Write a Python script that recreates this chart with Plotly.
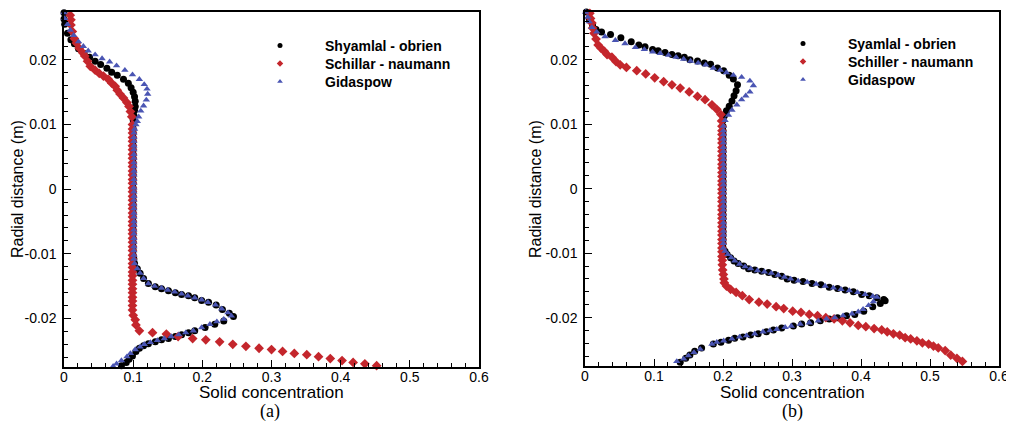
import plotly.graph_objects as go

# ---------------- Panel (a) data ----------------
A_Y_CORE = [0.0100, 0.0093, 0.0087, 0.0080, 0.0074, 0.0067, 0.0061, 0.0054, 0.0048, 0.0041, 0.0035,
            0.0028, 0.0022, 0.0015, 0.0009, 0.0002, -0.0004, -0.0011, -0.0017, -0.0024, -0.0030, -0.0037,
            -0.0043, -0.0050, -0.0056, -0.0063, -0.0069, -0.0076, -0.0082, -0.0089, -0.0095, -0.0102, -0.0108]

# Shyamlal - obrien (a)
A_SO_TOP_X = [0.000, 0.000, 0.001, 0.005, 0.010, 0.015, 0.021, 0.029, 0.037, 0.045, 0.053, 0.062,
              0.069, 0.077, 0.086, 0.093, 0.097, 0.100, 0.102, 0.103, 0.103, 0.102, 0.101, 0.100]
A_SO_TOP_Y = [0.0273, 0.0263, 0.0255, 0.0241, 0.0231, 0.0225, 0.0217, 0.0210, 0.0204, 0.0198, 0.0193, 0.0187,
              0.0181, 0.0176, 0.0170, 0.0164, 0.0157, 0.0150, 0.0143, 0.0136, 0.0128, 0.0122, 0.0114, 0.0107]
A_SO_CORE_X = [0.100, 0.100, 0.100, 0.100, 0.100, 0.100, 0.100, 0.100, 0.100, 0.100, 0.100,
               0.100, 0.100, 0.100, 0.100, 0.100, 0.100, 0.100, 0.100, 0.100, 0.100, 0.100,
               0.100, 0.100, 0.100, 0.100, 0.100, 0.100, 0.100, 0.100, 0.100, 0.100, 0.101]
A_SO_BOT_X = [0.102, 0.106, 0.110, 0.115, 0.122, 0.132, 0.141, 0.151, 0.161, 0.170, 0.180, 0.189,
              0.199, 0.209, 0.220, 0.229, 0.239, 0.245, 0.231, 0.218, 0.204, 0.189, 0.180, 0.170,
              0.161, 0.151, 0.141, 0.132, 0.122, 0.115, 0.109, 0.104, 0.099, 0.094, 0.090, 0.083]
A_SO_BOT_Y = [-0.0115, -0.0123, -0.0130, -0.0138, -0.0146, -0.0151, -0.0154, -0.0157, -0.0160, -0.0163,
              -0.0165, -0.0168, -0.0172, -0.0175, -0.0179, -0.0186, -0.0192, -0.0197, -0.0204, -0.0209,
              -0.0214, -0.0219, -0.0222, -0.0225, -0.0228, -0.0231, -0.0233, -0.0236, -0.0239, -0.0242,
              -0.0246, -0.0251, -0.0258, -0.0263, -0.0268, -0.0273]

# Schillar - naumann (a)
A_SN_TOP_X = [0.009, 0.010, 0.010, 0.012, 0.015, 0.018, 0.022, 0.027, 0.030, 0.034, 0.038, 0.045,
              0.051, 0.057, 0.064, 0.069, 0.074, 0.077, 0.081, 0.086, 0.091, 0.094, 0.096, 0.098]
A_SN_TOP_Y = [0.0269, 0.0262, 0.0254, 0.0244, 0.0233, 0.0226, 0.0218, 0.0211, 0.0206, 0.0198, 0.0190, 0.0184,
              0.0179, 0.0175, 0.0170, 0.0164, 0.0159, 0.0153, 0.0147, 0.0141, 0.0134, 0.0128, 0.0120, 0.0112]
A_SN_CORE_X = [0.099, 0.099, 0.099, 0.099, 0.099, 0.099, 0.099, 0.099, 0.099, 0.099, 0.099,
               0.099, 0.099, 0.099, 0.099, 0.099, 0.099, 0.099, 0.099, 0.099, 0.099, 0.099,
               0.099, 0.099, 0.099, 0.099, 0.099, 0.099, 0.099, 0.099, 0.099, 0.099, 0.099]
A_SN_EXT_Y = [-0.0115, -0.0121, -0.0128, -0.0134, -0.0141, -0.0147, -0.0154, -0.0160, -0.0167, -0.0173, -0.0180]
A_SN_EXT_X = [0.099, 0.099, 0.099, 0.099, 0.099, 0.099, 0.099, 0.099, 0.099, 0.099, 0.099]
A_SN_BOT_X = [0.099, 0.100, 0.103, 0.104, 0.109, 0.128, 0.148, 0.165, 0.186, 0.205, 0.225, 0.244,
              0.263, 0.282, 0.300, 0.316, 0.333, 0.351, 0.368, 0.385, 0.402, 0.418, 0.435, 0.452]
A_SN_BOT_Y = [-0.0187, -0.0195, -0.0202, -0.0210, -0.0219, -0.0222, -0.0224, -0.0228, -0.0231, -0.0233,
              -0.0236, -0.0240, -0.0243, -0.0246, -0.0248, -0.0251, -0.0254, -0.0256, -0.0259, -0.0262,
              -0.0265, -0.0268, -0.0270, -0.0273]

# Gidaspow (a)
A_GI_TOP_X = [0.000, 0.001, 0.005, 0.009, 0.014, 0.021, 0.028, 0.035, 0.045, 0.055, 0.066, 0.076,
              0.088, 0.099, 0.109, 0.116, 0.120, 0.121, 0.119, 0.115, 0.111, 0.108, 0.106]
A_GI_TOP_Y = [0.0273, 0.0264, 0.0255, 0.0246, 0.0238, 0.0228, 0.0221, 0.0214, 0.0208, 0.0202, 0.0197, 0.0191,
              0.0184, 0.0177, 0.0170, 0.0162, 0.0155, 0.0147, 0.0138, 0.0129, 0.0121, 0.0112, 0.0105]
A_GI_CORE_X = [0.104, 0.102, 0.101, 0.101, 0.101, 0.101, 0.101, 0.101, 0.101, 0.101, 0.101,
               0.101, 0.101, 0.101, 0.101, 0.101, 0.101, 0.101, 0.101, 0.101, 0.101, 0.101,
               0.101, 0.101, 0.101, 0.101, 0.101, 0.101, 0.101, 0.101, 0.101, 0.101, 0.101]
A_GI_BOT_X = [0.102, 0.106, 0.110, 0.115, 0.122, 0.131, 0.141, 0.150, 0.160, 0.170, 0.179, 0.189,
              0.199, 0.208, 0.219, 0.228, 0.237, 0.242, 0.231, 0.221, 0.211, 0.199, 0.187, 0.176,
              0.166, 0.155, 0.145, 0.135, 0.125, 0.116, 0.110, 0.103, 0.096, 0.091, 0.083, 0.076, 0.071]
A_GI_BOT_Y = [-0.0115, -0.0123, -0.0130, -0.0138, -0.0146, -0.0150, -0.0153, -0.0156, -0.0159, -0.0162,
              -0.0165, -0.0168, -0.0171, -0.0175, -0.0179, -0.0185, -0.0191, -0.0196, -0.0201, -0.0205,
              -0.0209, -0.0214, -0.0219, -0.0222, -0.0225, -0.0228, -0.0231, -0.0234, -0.0237, -0.0240,
              -0.0244, -0.0248, -0.0254, -0.0259, -0.0265, -0.0270, -0.0274]

# ---------------- Panel (b) data ----------------
B_Y_CORE = [0.0097, 0.0090, 0.0084, 0.0077, 0.0071, 0.0064, 0.0058, 0.0051, 0.0045, 0.0038,
            0.0032, 0.0025, 0.0019, 0.0012, 0.0006, -0.0001, -0.0007, -0.0014, -0.0020, -0.0027,
            -0.0033, -0.0040, -0.0046, -0.0053, -0.0059, -0.0066, -0.0072, -0.0079, -0.0085, -0.0092]

# Syamlal - obrien (b)
B_SO_TOP_X = [0.002, 0.006, 0.011, 0.016, 0.024, 0.037, 0.052, 0.067, 0.078, 0.087, 0.098, 0.106,
              0.116, 0.126, 0.135, 0.144, 0.152, 0.163, 0.173, 0.182, 0.192, 0.201, 0.209, 0.215,
              0.221, 0.219, 0.216, 0.213, 0.209, 0.205, 0.202, 0.200]
B_SO_TOP_Y = [0.0274, 0.0264, 0.0253, 0.0247, 0.0243, 0.0239, 0.0234, 0.0228, 0.0223, 0.0220, 0.0216, 0.0214,
              0.0211, 0.0208, 0.0206, 0.0204, 0.0200, 0.0198, 0.0195, 0.0193, 0.0187, 0.0183, 0.0176, 0.0170,
              0.0161, 0.0152, 0.0144, 0.0136, 0.0128, 0.0121, 0.0113, 0.0106]
B_SO_CORE_X = [0.200, 0.200, 0.200, 0.200, 0.200, 0.200, 0.200, 0.200, 0.200, 0.200,
               0.200, 0.200, 0.200, 0.200, 0.200, 0.200, 0.200, 0.200, 0.200, 0.200,
               0.200, 0.200, 0.200, 0.200, 0.200, 0.200, 0.200, 0.200, 0.200, 0.200]
B_SO_BOT_X = [0.203, 0.206, 0.211, 0.216, 0.222, 0.230, 0.237, 0.246, 0.256, 0.266, 0.275, 0.285,
              0.293, 0.303, 0.316, 0.329, 0.342, 0.354, 0.366, 0.377, 0.389, 0.401, 0.412, 0.423,
              0.433, 0.435, 0.428, 0.417, 0.404, 0.391, 0.379, 0.366, 0.354, 0.341, 0.327, 0.314,
              0.302, 0.285, 0.273, 0.263, 0.251, 0.240, 0.229, 0.217, 0.208, 0.197, 0.186, 0.169,
              0.159, 0.152, 0.146, 0.138]
B_SO_BOT_Y = [-0.0097, -0.0102, -0.0107, -0.0112, -0.0116, -0.0120, -0.0124, -0.0126, -0.0128, -0.0130,
              -0.0133, -0.0136, -0.0140, -0.0142, -0.0144, -0.0147, -0.0149, -0.0153, -0.0155, -0.0157,
              -0.0160, -0.0164, -0.0166, -0.0169, -0.0172, -0.0174, -0.0178, -0.0183, -0.0190, -0.0195,
              -0.0197, -0.0200, -0.0202, -0.0205, -0.0208, -0.0210, -0.0213, -0.0216, -0.0219, -0.0222,
              -0.0225, -0.0227, -0.0230, -0.0232, -0.0235, -0.0238, -0.0241, -0.0247, -0.0252, -0.0258,
              -0.0263, -0.0269]

# Schiller - naumann (b)
B_SN_TOP_X = [0.007, 0.008, 0.010, 0.011, 0.013, 0.016, 0.019, 0.023, 0.028, 0.032, 0.039, 0.045,
              0.051, 0.060, 0.075, 0.088, 0.101, 0.114, 0.126, 0.138, 0.151, 0.163, 0.174, 0.184,
              0.191, 0.197, 0.198]
B_SN_TOP_Y = [0.0272, 0.0264, 0.0257, 0.0249, 0.0241, 0.0232, 0.0223, 0.0218, 0.0213, 0.0208, 0.0204, 0.0197,
              0.0192, 0.0188, 0.0183, 0.0178, 0.0172, 0.0166, 0.0161, 0.0156, 0.0150, 0.0143, 0.0138, 0.0130,
              0.0123, 0.0115, 0.0105]
B_SN_CORE_X = [0.1985, 0.1985, 0.1985, 0.1985, 0.1985, 0.1985, 0.1985, 0.1985, 0.1985, 0.1985,
               0.1985, 0.1985, 0.1985, 0.1985, 0.1985, 0.1985, 0.1985, 0.1985, 0.1985, 0.1985,
               0.1985, 0.1985, 0.1985, 0.1985, 0.1985, 0.1985, 0.1985, 0.1985, 0.1985, 0.1985]
B_SN_EXT_Y = [-0.0098, -0.0105, -0.0111, -0.0118]
B_SN_EXT_X = [0.1985, 0.1985, 0.1990, 0.1990]
B_SN_BOT_X = [0.1995, 0.2005, 0.2014, 0.2019, 0.205, 0.211, 0.219, 0.228, 0.238, 0.252, 0.264, 0.277,
              0.288, 0.301, 0.313, 0.325, 0.337, 0.349, 0.361, 0.373, 0.384, 0.396, 0.407, 0.419,
              0.430, 0.438, 0.447, 0.456, 0.464, 0.472, 0.481, 0.489, 0.498, 0.505, 0.512, 0.522,
              0.530, 0.539, 0.547]
B_SN_BOT_Y = [-0.0126, -0.0133, -0.0140, -0.0146, -0.0151, -0.0156, -0.0161, -0.0166, -0.0172, -0.0176,
              -0.0179, -0.0183, -0.0186, -0.0190, -0.0192, -0.0195, -0.0197, -0.0200, -0.0202, -0.0205,
              -0.0208, -0.0212, -0.0214, -0.0217, -0.0219, -0.0222, -0.0225, -0.0227, -0.0231, -0.0233,
              -0.0236, -0.0239, -0.0241, -0.0244, -0.0247, -0.0251, -0.0258, -0.0263, -0.0268]

# Gidaspow (b)
B_GI_TOP_X = [0.001, 0.004, 0.006, 0.010, 0.017, 0.029, 0.044, 0.058, 0.073, 0.086, 0.098, 0.109,
              0.121, 0.132, 0.143, 0.153, 0.164, 0.175, 0.186, 0.196, 0.205, 0.215, 0.227, 0.239,
              0.244, 0.239, 0.233, 0.227, 0.220, 0.213, 0.208, 0.203]
B_GI_TOP_Y = [0.0274, 0.0266, 0.0259, 0.0250, 0.0243, 0.0236, 0.0230, 0.0225, 0.0219, 0.0216, 0.0212, 0.0210,
              0.0207, 0.0204, 0.0201, 0.0198, 0.0195, 0.0192, 0.0187, 0.0184, 0.0180, 0.0176, 0.0173, 0.0167,
              0.0160, 0.0150, 0.0144, 0.0138, 0.0130, 0.0122, 0.0114, 0.0106]
B_GI_CORE_X = [0.2005, 0.2005, 0.2005, 0.2005, 0.2005, 0.2005, 0.2005, 0.2005, 0.2005, 0.2005,
               0.2005, 0.2005, 0.2005, 0.2005, 0.2005, 0.2005, 0.2005, 0.2005, 0.2005, 0.2005,
               0.2005, 0.2005, 0.2005, 0.2005, 0.2005, 0.2005, 0.2005, 0.2005, 0.2005, 0.2005]
B_GI_BOT_X = [0.203, 0.207, 0.212, 0.217, 0.224, 0.232, 0.240, 0.250, 0.260, 0.270, 0.280, 0.289,
              0.298, 0.309, 0.322, 0.335, 0.348, 0.360, 0.371, 0.383, 0.395, 0.406, 0.417, 0.423,
              0.418, 0.411, 0.403, 0.396, 0.387, 0.374, 0.362, 0.350, 0.338, 0.325, 0.312, 0.299,
              0.290, 0.278, 0.268, 0.258, 0.246, 0.234, 0.224, 0.213, 0.201, 0.191, 0.184, 0.167,
              0.158, 0.150, 0.143, 0.133]
B_GI_BOT_Y = [-0.0097, -0.0102, -0.0107, -0.0112, -0.0117, -0.0121, -0.0124, -0.0127, -0.0129, -0.0131,
              -0.0134, -0.0137, -0.0140, -0.0143, -0.0145, -0.0148, -0.0151, -0.0154, -0.0156, -0.0158,
              -0.0161, -0.0164, -0.0167, -0.0168, -0.0175, -0.0181, -0.0187, -0.0191, -0.0194, -0.0197,
              -0.0200, -0.0202, -0.0205, -0.0208, -0.0210, -0.0213, -0.0215, -0.0218, -0.0220, -0.0222,
              -0.0225, -0.0228, -0.0230, -0.0233, -0.0236, -0.0238, -0.0241, -0.0249, -0.0254, -0.0259,
              -0.0264, -0.0268]

X_TICKS = [0, 0.1, 0.2, 0.3, 0.4, 0.5, 0.6]
X_TICKTEXT = ["0", "0.1", "0.2", "0.3", "0.4", "0.5", "0.6"]
Y_TICKS = [0.02, 0.01, 0, -0.01, -0.02]
Y_TICKTEXT = ["0.02", "0.01", "0", "-0.01", "-0.02"]

A_NAMES = ["Shyamlal - obrien", "Schillar - naumann", "Gidaspow"]
B_NAMES = ["Syamlal - obrien", "Schiller - naumann", "Gidaspow"]

COLORS = ["#000000", "#c4262c", "#4a55b3"]
SYMBOLS = ["circle", "diamond", "triangle-up"]
SIZES = [7, 7.5, 6.5]

series_a = [
    (A_SO_TOP_X + A_SO_CORE_X + A_SO_BOT_X, A_SO_TOP_Y + A_Y_CORE + A_SO_BOT_Y),
    (A_SN_TOP_X + A_SN_CORE_X + A_SN_EXT_X + A_SN_BOT_X, A_SN_TOP_Y + A_Y_CORE + A_SN_EXT_Y + A_SN_BOT_Y),
    (A_GI_TOP_X + A_GI_CORE_X + A_GI_BOT_X, A_GI_TOP_Y + A_Y_CORE + A_GI_BOT_Y),
]
series_b = [
    (B_SO_TOP_X + B_SO_CORE_X + B_SO_BOT_X, B_SO_TOP_Y + B_Y_CORE + B_SO_BOT_Y),
    (B_SN_TOP_X + B_SN_CORE_X + B_SN_EXT_X + B_SN_BOT_X, B_SN_TOP_Y + B_Y_CORE + B_SN_EXT_Y + B_SN_BOT_Y),
    (B_GI_TOP_X + B_GI_CORE_X + B_GI_BOT_X, B_GI_TOP_Y + B_Y_CORE + B_GI_BOT_Y),
]
for xs, ys in series_a + series_b:
    assert len(xs) == len(ys), (len(xs), len(ys))

W, H = 1014, 423
OFF = 8  # page body margin of the HTML page


def px_x(p):
    return (p - OFF) / W


def px_y(p):
    return 1 - (p - OFF) / H


fig = go.Figure()

# legend anchor positions (symbol centre x, row centre y) in window pixels
LEG_A = (280, [46, 64, 82])
LEG_B = (803, [44, 62, 80])
legend_layout = {}
leg_idx = 0

for series, names, xa, ya, (lx, lys) in [
        (series_a, A_NAMES, "x", "y", LEG_A),
        (series_b, B_NAMES, "x2", "y2", LEG_B)]:
    for i, (xs, ys) in enumerate(series):
        fig.add_trace(go.Scatter(
            x=xs, y=ys, mode="markers", xaxis=xa, yaxis=ya, showlegend=False,
            cliponaxis=False,
            marker=dict(symbol=SYMBOLS[i], size=SIZES[i], color=COLORS[i], line=dict(width=0)),
        ))
    for i, nm in enumerate(names):
        leg_idx += 1
        lname = "legend" if leg_idx == 1 else "legend%d" % leg_idx
        fig.add_trace(go.Scatter(
            x=[None], y=[None], mode="markers", xaxis=xa, yaxis=ya, legend=lname,
            name="<b>" + nm + "</b>", showlegend=True,
            marker=dict(symbol=SYMBOLS[i], size=5, color=COLORS[i], line=dict(width=0)),
        ))
        legend_layout[lname] = dict(
            x=px_x(lx - 45), y=px_y(lys[i]), xanchor="left", yanchor="middle",
            bgcolor="rgba(0,0,0,0)", borderwidth=0, itemwidth=80, tracegroupgap=0,
            font=dict(family="Liberation Sans, Arial", size=14, color="black"))

axis_common = dict(
    showline=True, linecolor="black", linewidth=1.5, mirror=True,
    ticks="inside", ticklen=7, tickwidth=1.2, tickcolor="black",
    showgrid=False, zeroline=False, automargin=False,
    tickfont=dict(family="Liberation Sans, Arial", size=14, color="black"),
)
minor_x = dict(ticks="inside", ticklen=4, dtick=0.02, tick0=0, tickcolor="black", tickwidth=1)
minor_y = dict(ticks="inside", ticklen=4, dtick=0.002, tick0=0, tickcolor="black", tickwidth=1)

fig.update_layout(
    width=W, height=H,
    margin=dict(l=0, r=0, t=0, b=0, autoexpand=False),
    paper_bgcolor="white", plot_bgcolor="white",
    xaxis=dict(domain=[px_x(64), px_x(479)], range=[0, 0.6], anchor="y",
               tickvals=X_TICKS, ticktext=X_TICKTEXT, minor=minor_x, ticklabelstandoff=-4,
               **axis_common),
    yaxis=dict(domain=[px_y(367), px_y(12)], range=[-0.0275, 0.0274], anchor="x",
               tickvals=Y_TICKS, ticktext=Y_TICKTEXT, minor=minor_y, ticklabelstandoff=3,
               **axis_common),
    xaxis2=dict(domain=[px_x(585), px_x(999)], range=[0, 0.6], anchor="y2",
                tickvals=X_TICKS, ticktext=X_TICKTEXT, minor=minor_x, ticklabelstandoff=-4,
                **axis_common),
    yaxis2=dict(domain=[px_y(366), px_y(12)], range=[-0.0275, 0.0274], anchor="x2",
                tickvals=Y_TICKS, ticktext=Y_TICKTEXT, minor=minor_y, ticklabelstandoff=3,
                **axis_common),
    **legend_layout,
)

title_font = dict(family="Liberation Sans, Arial", size=17, color="black")
ytitle_font = dict(family="Liberation Sans, Arial", size=16, color="black")
serif_font = dict(family="Liberation Serif, Times New Roman", size=18, color="black")
annots = [
    dict(text="Solid concentration", x=px_x(271), y=px_y(392), font=title_font),
    dict(text="Solid concentration", x=px_x(792), y=px_y(392), font=title_font),
    dict(text="Radial distance (m)", x=px_x(17), y=px_y(189), textangle=-90, font=ytitle_font),
    dict(text="Radial distance (m)", x=px_x(535), y=px_y(189), textangle=-90, font=ytitle_font),
    dict(text="(a)", x=px_x(270), y=px_y(411.5), font=serif_font),
    dict(text="(b)", x=px_x(792), y=px_y(411.5), font=serif_font),
]
for a in annots:
    fig.add_annotation(xref="paper", yref="paper", showarrow=False,
                       xanchor="center", yanchor="middle", **a)

fig.write_html("out.html")
